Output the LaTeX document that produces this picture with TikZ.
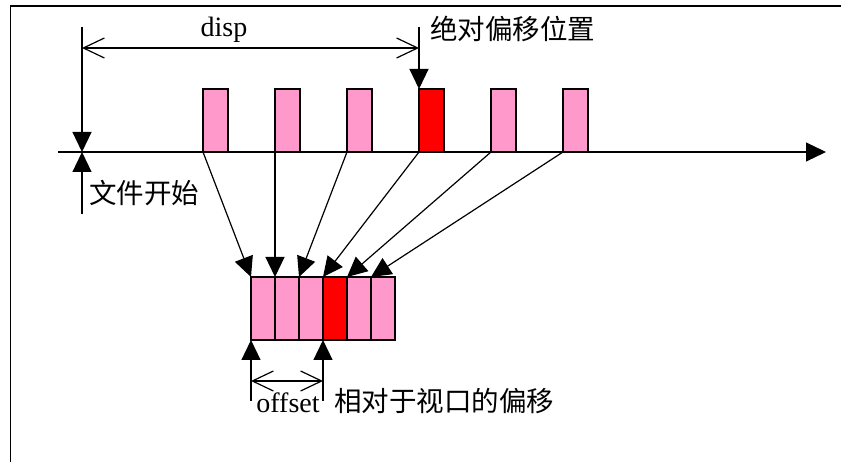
\documentclass[tikz,border=0pt]{standalone}
\usepackage{fontspec}
\setmainfont{Liberation Serif}
\newfontfamily\cjk{Noto Sans CJK SC}
\usetikzlibrary{arrows.meta}
\definecolor{pinkfill}{HTML}{FF99CC}
\definecolor{redfill}{HTML}{FF0000}
\tikzset{
  topbox/.style={draw=black, line width=1.2pt, fill=pinkfill, minimum width=25pt, minimum height=63pt, inner sep=0pt, outer sep=0pt, anchor=north west},
  botbox/.style={draw=black, line width=1.2pt, fill=pinkfill, minimum width=24pt, minimum height=63pt, inner sep=0pt, outer sep=0pt, anchor=north west},
  hot/.style={fill=redfill},
  conn/.style={line width=1.2pt, -{Triangle[length=20pt,width=19pt]}},
  dimline/.style={line width=1.2pt, {Straight Barb[length=21pt,width=20pt]}-{Straight Barb[length=21pt,width=20pt]}},
  latinlbl/.style={font=\fontsize{28}{30}\selectfont, inner sep=0pt},
  cjklbl/.style={font=\cjk\fontsize{27.5}{30}\selectfont, inner sep=0pt, anchor=west},
}
\begin{document}
\begin{tikzpicture}[x=1pt,y=-1pt]
\useasboundingbox (0,0) rectangle (841,462);
% frame (only top and left visible)
\draw[line width=1.6pt] (10.5,462) -- (10.5,6) -- (841,6);
% axis
\coordinate (axstart) at (58,152);
\coordinate (axend) at (826,152);
\draw[conn] (axstart) -- (axend);
% top boxes
\node[topbox] (t1) at (203,89) {};
\node[topbox] (t2) at (275,89) {};
\node[topbox] (t3) at (347,89) {};
\node[topbox,hot] (t4) at (419,89) {};
\node[topbox] (t5) at (491,89) {};
\node[topbox] (t6) at (563,89) {};
% bottom boxes
\node[botbox] (b1) at (251,277) {};
\node[botbox] (b2) at (275,277) {};
\node[botbox] (b3) at (299,277) {};
\node[botbox,hot] (b4) at (323,277) {};
\node[botbox] (b5) at (347,277) {};
\node[botbox] (b6) at (371,277) {};
% mapping arrows
\foreach \i in {1,...,6}{
  \draw[conn] (t\i.south west) -- (b\i.north west);
}
% file start markers
\coordinate (vtop) at (82,27);
\coordinate (origin) at (82,152);
\coordinate (vbot) at (82,214);
\draw[conn] (vtop) -- (origin);
\draw[conn] (vbot) -- (origin);
% absolute offset marker
\coordinate (atop) at (419,27);
\draw[conn] (atop) -- (t4.north west);
% disp dimension
\coordinate (dl) at (82,48);
\coordinate (dr) at (419,48);
\draw[dimline] (dl) -- (dr);
\node[latinlbl] (disp) at (224,30) {disp};
\node[cjklbl] (abs) at (430,29) {绝对偏移位置};
\node[cjklbl] (fstart) at (89,193) {文件开始};
% bottom markers
\coordinate (ob1) at (251,401);
\coordinate (ob2) at (323,401);
\draw[conn] (ob1) -- (b1.south west);
\draw[conn] (ob2) -- (b4.south west);
\coordinate (ol) at (251,381);
\coordinate (or) at (323,381);
\draw[dimline] (ol) -- (or);
\node[latinlbl] (offs) at (288,403) {offset};
\node[cjklbl] (rel) at (334,401) {相对于视口的偏移};
\end{tikzpicture}
\end{document}
